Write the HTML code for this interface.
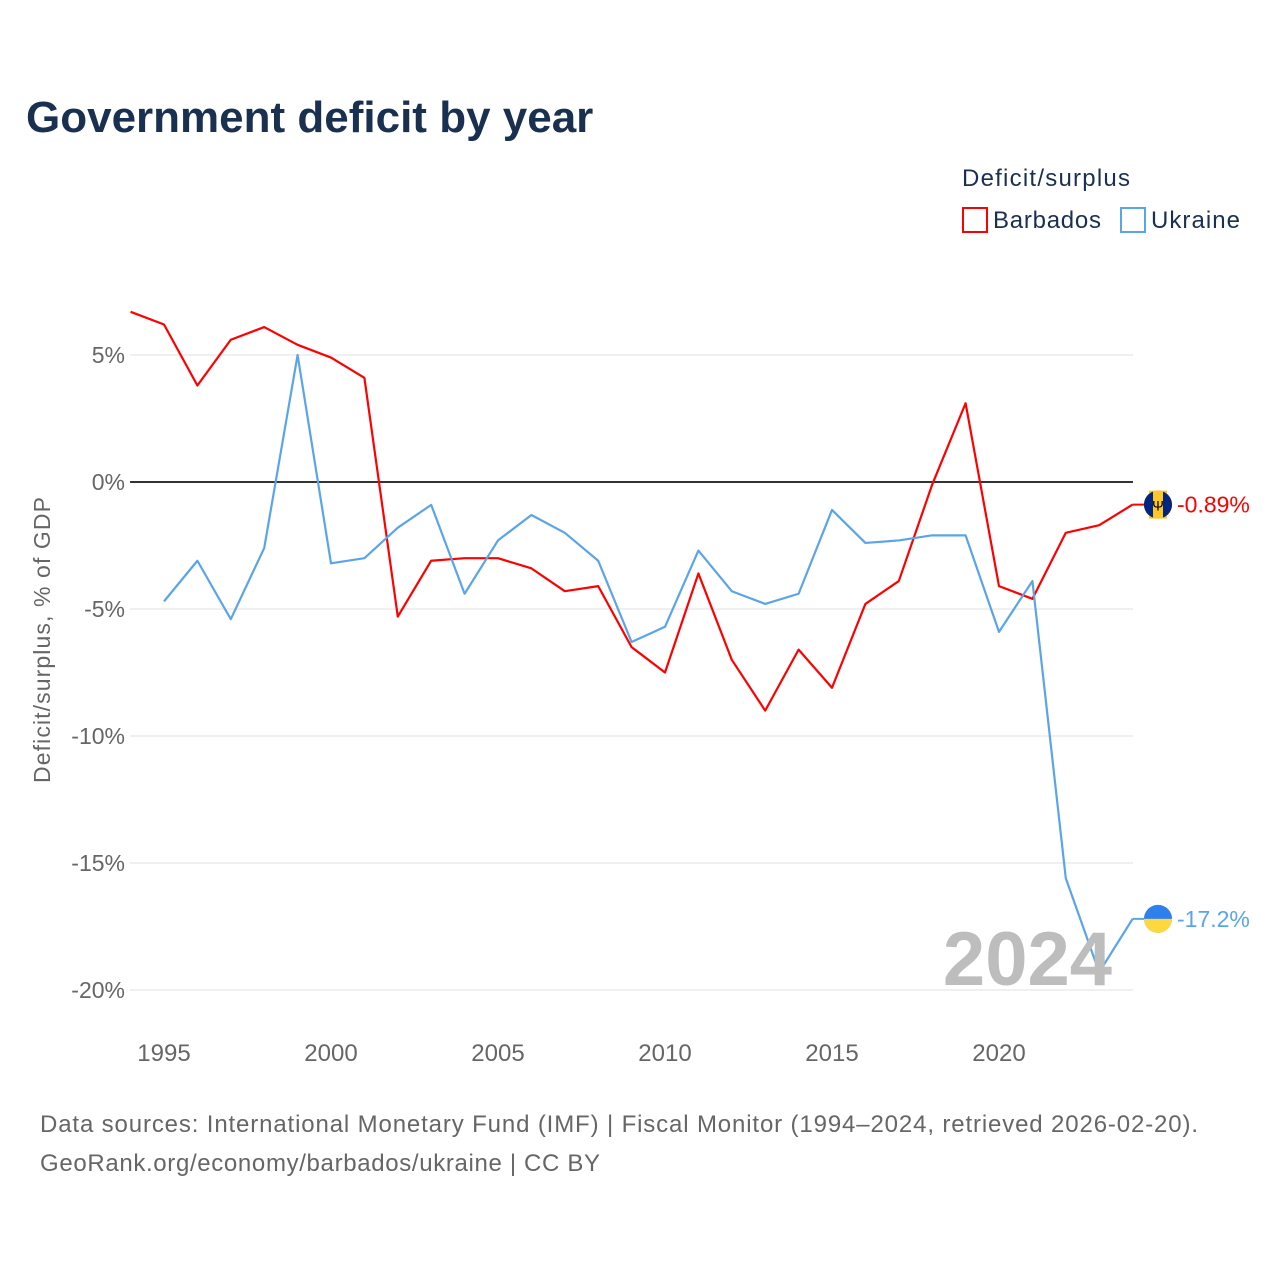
<!DOCTYPE html>
<html><head><meta charset="utf-8">
<style>
body{margin:0;background:#fff;font-family:"Liberation Sans",sans-serif;}
</style></head>
<body>
<svg id="chart" width="1280" height="1280" xmlns="http://www.w3.org/2000/svg" style="display:block">
<text x="26" y="132" font-size="44" font-weight="bold" fill="#1a3050">Government deficit by year</text>
<text x="962" y="186" font-size="24" fill="#1a3050" textLength="168">Deficit/surplus</text>
<g>
<rect x="963" y="208" width="24" height="24" fill="none" stroke="#ff0000" stroke-width="2"/>
<text x="993" y="228" font-size="24" fill="#1a3050" textLength="108">Barbados</text></g>
<g>
<rect x="1121" y="208" width="24" height="24" fill="none" stroke="#5aa5e8" stroke-width="2"/>
<text x="1151" y="228" font-size="24" fill="#1a3050" textLength="89">Ukraine</text></g>
<text transform="translate(50,640) rotate(-90)" text-anchor="middle" font-size="23" fill="#666" textLength="286">Deficit/surplus, % of GDP</text>
<g id="grid"></g>
<g id="xt"></g>
<g id="series"></g>
<text x="1112" y="985" text-anchor="end" font-size="76" font-weight="bold" fill="#bdbdbd">2024</text>
<text x="40" y="1132" font-size="24" fill="#666" textLength="1158">Data sources: International Monetary Fund (IMF) | Fiscal Monitor (1994–2024, retrieved 2026-02-20).</text>
<text x="40" y="1171" font-size="24" fill="#666" textLength="560">GeoRank.org/economy/barbados/ukraine | CC BY</text>
</svg>
<script>
const yTicks=[5,0,-5,-10,-15,-20];
const xTicks=[1995,2000,2005,2010,2015,2020];
const barbYears=[1994,1995,1996,1997,1998,1999,2000,2001,2002,2003,2004,2005,2006,2007,2008,2009,2010,2011,2012,2013,2014,2015,2016,2017,2018,2019,2020,2021,2022,2023,2024];
const barbados=[6.7,6.2,3.8,5.6,6.1,5.4,4.9,4.1,-5.3,-3.1,-3.0,-3.0,-3.4,-4.3,-4.1,-6.5,-7.5,-3.6,-7.0,-9.0,-6.6,-8.1,-4.8,-3.9,-0.1,3.1,-4.1,-4.6,-2.0,-1.7,-0.89];
const ukrYears=[1995,1996,1997,1998,1999,2000,2001,2002,2003,2004,2005,2006,2007,2008,2009,2010,2011,2012,2013,2014,2015,2016,2017,2018,2019,2020,2021,2022,2023,2024];
const ukraine=[-4.7,-3.1,-5.4,-2.6,5.0,-3.2,-3.0,-1.8,-0.9,-4.4,-2.3,-1.3,-2.0,-3.1,-6.3,-5.7,-2.7,-4.3,-4.8,-4.4,-1.1,-2.4,-2.3,-2.1,-2.1,-5.9,-3.9,-15.6,-19.3,-17.2];
const NS="http://www.w3.org/2000/svg";
const X=y=>164+(y-1995)*33.4;
const Y=v=>482-v*25.4;
function mk(t,a,p){const e=document.createElementNS(NS,t);for(const k in a)e.setAttribute(k,a[k]);p.appendChild(e);return e;}
const grid=document.getElementById('grid');
yTicks.forEach(v=>{
 const l=mk('line',{x1:130,x2:1133,y1:Y(v),y2:Y(v),stroke:v===0?'#333':'#e6e6e6','stroke-width':v===0?2:1.3},grid);
 
 
 const t=mk('text',{x:125,y:Y(v)+8,'text-anchor':'end','font-size':23,fill:'#666'},grid);
 t.textContent=v+'%';
 
 
});
const xt=document.getElementById('xt');
xTicks.forEach(y=>{
 const t=mk('text',{x:X(y),y:1061,'text-anchor':'middle','font-size':24,fill:'#666'},xt);
 t.textContent=y;
 
 
});
const s=document.getElementById('series');
function line(yrs,vals,col,name,label){
 const p=mk('polyline',{points:yrs.map((y,i)=>X(y)+','+Y(vals[i])).join(' '),fill:'none',stroke:col,'stroke-width':2.2,'stroke-linejoin':'round'},s);
 
 
 const ly=Y(vals[vals.length-1]);
 mk('line',{x1:X(yrs[yrs.length-1]),x2:1145,y1:ly,y2:ly,stroke:col,'stroke-width':2},s);
 const c=mk('circle',{cx:1158,cy:ly,r:14,fill:col},s);
 
 
 const t=mk('text',{x:1177,y:ly+8,'font-size':23,fill:col},s);
 t.textContent=label;
 
 
 return ly;
}
const by=line(barbYears,barbados,'#ff0000','barbados','-0.89%');
mk('rect',{x:1149,y:by-14,width:18,height:28,fill:'#ffc726'},s);
mk('path',{d:`M1144,${by} a14,14 0 0,1 9,-13 v26 a14,14 0 0,1 -9,-13z M1172,${by} a14,14 0 0,0 -9,-13 v26 a14,14 0 0,0 9,-13z`,fill:'#00267f'},s);
mk('text',{x:1158,y:by+6,'text-anchor':'middle','font-size':14,fill:'#000'},s).textContent='Ψ';
const uy=line(ukrYears,ukraine,'#5aa5e8','ukraine','-17.2%');
mk('path',{d:`M1144,${uy} a14,14 0 0,1 28,0z`,fill:'#2f80ed'},s);
mk('path',{d:`M1144,${uy} a14,14 0 0,0 28,0z`,fill:'#ffd83d'},s);
</script>
</body></html>
